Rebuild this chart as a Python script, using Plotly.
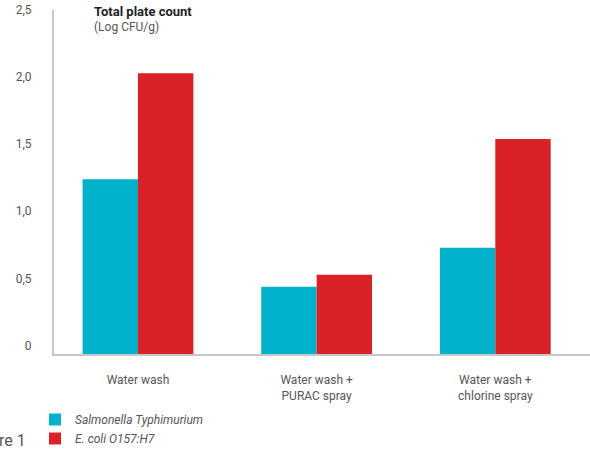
import plotly.graph_objects as go

categories = ["Water wash", "Water wash +<br>PURAC spray", "Water wash +<br>chlorine spray"]
salmonella = [1.30, 0.50, 0.79]
ecoli = [2.09, 0.59, 1.60]
series_names = ["Salmonella Typhimurium", "E. coli O157:H7"]
y_ticks = [0, 0.5, 1.0, 1.5, 2.0, 2.5]
y_tick_labels = ["0", "0,5", "1,0", "1,5", "2,0", "2,5"]

CYAN = "#00B2CC"
RED = "#DA2128"
GRID = "#C8C8C8"
TXT = "#555555"
FONT = "Roboto"

fig = go.Figure()
fig.add_trace(go.Bar(x=categories, y=salmonella, name=series_names[0],
                     marker=dict(color=CYAN, line=dict(width=0))))
fig.add_trace(go.Bar(x=categories, y=ecoli, name=series_names[1],
                     marker=dict(color=RED, line=dict(width=0))))

fig.update_layout(
    width=590, height=453,
    margin=dict(l=54, r=0, t=10, b=98),
    paper_bgcolor="white", plot_bgcolor="white",
    barmode="group", bargap=0.38, bargroupgap=0,
    font=dict(family=FONT, size=12, color=TXT),
    showlegend=True,
    legend=dict(orientation="v", x=(35 - 54) / 536, xanchor="left", y=-0.148, yanchor="top",
                font=dict(family=FONT, size=12, color=TXT, style="italic"),
                bgcolor="rgba(0,0,0,0)", itemwidth=30, tracegroupgap=0),
    xaxis=dict(type="category", range=[-0.47, 2.53], showgrid=False,
               showline=True, linecolor=GRID, linewidth=2, ticks="",
               ticklabelstandoff=14, tickfont=dict(family=FONT, size=12, color=TXT),
               fixedrange=True),
    yaxis=dict(range=[0, 2.56], showgrid=False, zeroline=False,
               showline=True, linecolor=GRID, linewidth=2, ticks="",
               tickvals=y_ticks, ticktext=y_tick_labels,
               ticklabelposition="outside top", ticklabelstandoff=18,
               tickfont=dict(family=FONT, size=12, color=TXT), fixedrange=True),
    annotations=[
        dict(text="<b>Total plate count</b>", xref="paper", yref="paper",
             x=(92 - 54) / 536, y=1.0, xanchor="left", yanchor="top", showarrow=False,
             font=dict(family=FONT, size=13, color="#222222"), yshift=8),
        dict(text="(Log CFU/g)", xref="paper", yref="paper",
             x=(92 - 54) / 536, y=1.0, xanchor="left", yanchor="top", showarrow=False,
             font=dict(family=FONT, size=12, color=TXT), yshift=-8),
        dict(text="re 1", xref="paper", yref="paper",
             x=(0 - 54) / 536, y=(355 - 442) / 345, xanchor="left", yanchor="middle",
             showarrow=False, font=dict(family=FONT, size=16, color=TXT), xshift=-3),
    ],
)

fig.write_html("out.html")
